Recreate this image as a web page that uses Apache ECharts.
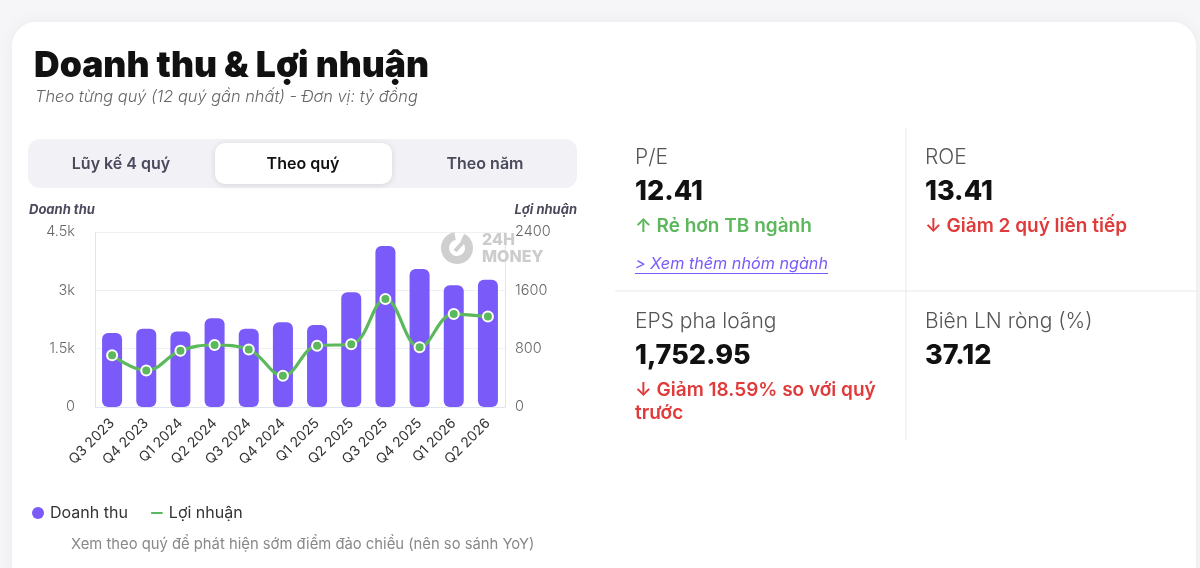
<!DOCTYPE html>
<html>
<head>
<meta charset="utf-8">
<script src="https://cdn.jsdelivr.net/npm/echarts@6/dist/echarts.min.js"></script>
<style>
html,body{margin:0;padding:0;background:#f6f6f9;}
#chart{width:1200px;height:568px;}
</style>
</head>
<body>
<div id="chart"></div>
<script>
// ---- Data ----
const categories = ['Q3 2023','Q4 2023','Q1 2024','Q2 2024','Q3 2024','Q4 2024','Q1 2025','Q2 2025','Q3 2025','Q4 2025','Q1 2026','Q2 2026'];
const revenue = [1900, 2010, 1940, 2280, 2010, 2180, 2110, 2950, 4140, 3550, 3130, 3270];
const profit = [710, 500, 770, 850, 790, 430, 840, 860, 1480, 820, 1275, 1240];
const leftTicks = {min: 0, max: 4500, interval: 1500};
const rightTicks = {min: 0, max: 2400, interval: 800};
const tabLabels = ['Lũy kế 4 quý', 'Theo quý', 'Theo năm'];
const stats = [
  {label: 'P/E', value: '12.41', note: ['↑ Rẻ hơn TB ngành'], good: true, link: '> Xem thêm nhóm ngành'},
  {label: 'ROE', value: '13.41', note: ['↓ Giảm 2 quý liên tiếp'], good: false},
  {label: 'EPS pha loãng', value: '1,752.95', note: ['↓ Giảm 18.59% so với quý', 'trước'], good: false},
  {label: 'Biên LN ròng (%)', value: '37.12', note: [], good: false}
];

const FONT = 'Inter, "Noto Sans", "DejaVu Sans", sans-serif';
const PURPLE = '#7a5af8';
const GREEN = '#5cb85c';
const RED = '#e03a3a';

function measure(text, font) {
  const c = document.createElement('canvas').getContext('2d');
  c.font = font;
  return c.measureText(text).width;
}

const chart = echarts.init(document.getElementById('chart'), null, {renderer: 'canvas'});

const g = [];
// card
g.push({type: 'rect', z: -10, shape: {x: 12, y: 22, width: 1184, height: 580, r: 24},
  style: {fill: '#ffffff', shadowBlur: 18, shadowColor: 'rgba(0,0,0,0.05)'}});
// title
g.push({type: 'text', x: 34, y: 66, style: {text: 'Doanh thu & Lợi nhuận', font: '900 35.5px ' + FONT, fill: '#111111', verticalAlign: 'middle'}});
g.push({type: 'text', x: 35, y: 97, style: {text: 'Theo từng quý (12 quý gần nhất) - Đơn vị: tỷ đồng', font: 'italic 300 16.4px ' + FONT, fill: '#666666', verticalAlign: 'middle'}});
// tabs
g.push({type: 'rect', shape: {x: 28, y: 139, width: 549, height: 49, r: 12}, style: {fill: '#f2f2f6'}});
g.push({type: 'rect', shape: {x: 215, y: 143, width: 177, height: 41, r: 10}, style: {fill: '#ffffff', shadowBlur: 6, shadowOffsetY: 1, shadowColor: 'rgba(0,0,0,0.12)'}});
const tabCenters = [121, 303, 485];
tabLabels.forEach((t, i) => {
  g.push({type: 'text', x: tabCenters[i], y: 164, style: {text: t, font: '600 16px ' + FONT, fill: i === 1 ? '#111111' : '#4a4a5c', align: 'center', verticalAlign: 'middle'}});
});
// axis names
g.push({type: 'text', x: 29, y: 210, style: {text: 'Doanh thu', font: 'italic 700 13px ' + FONT, fill: '#4a4a5c', verticalAlign: 'middle'}});
g.push({type: 'text', x: 577, y: 210, style: {text: 'Lợi nhuận', font: 'italic 700 13px ' + FONT, fill: '#4a4a5c', align: 'right', verticalAlign: 'middle'}});
// watermark
g.push({type: 'arc', z: 1, shape: {cx: 457, cy: 248, r: 12, startAngle: -Math.PI * 0.35, endAngle: Math.PI * 1.45}, style: {stroke: '#cfcfcf', lineWidth: 8, fill: null}});
g.push({type: 'line', z: 1, shape: {x1: 455, y1: 251, x2: 465, y2: 240}, style: {stroke: '#cfcfcf', lineWidth: 4}});
g.push({type: 'text', z: 1, x: 482, y: 240, style: {text: '24H', font: '800 16px ' + FONT, fill: '#cccccc', verticalAlign: 'middle'}});
g.push({type: 'text', z: 1, x: 482, y: 257, style: {text: 'MONEY', font: '800 16px ' + FONT, fill: '#cccccc', verticalAlign: 'middle'}});
// footnote
g.push({type: 'text', x: 71, y: 545, style: {text: 'Xem theo quý để phát hiện sớm điểm đảo chiều (nên so sánh YoY)', font: '400 14.8px ' + FONT, fill: '#888888', verticalAlign: 'middle'}});
// stats dividers
g.push({type: 'line', shape: {x1: 906, y1: 128, x2: 906, y2: 440}, style: {stroke: '#e8e8ec', lineWidth: 1}});
g.push({type: 'line', shape: {x1: 615, y1: 291, x2: 1196, y2: 291}, style: {stroke: '#e8e8ec', lineWidth: 1}});
const cellPos = [[635, 158], [925, 158], [635, 322], [925, 322]];
stats.forEach((s, i) => {
  const [x, y] = cellPos[i];
  g.push({type: 'text', x: x, y: y, style: {text: s.label, font: '300 21px ' + FONT, fill: '#555555', verticalAlign: 'middle'}});
  g.push({type: 'text', x: x, y: y + 34, style: {text: s.value, font: '800 27px ' + FONT, fill: '#111111', verticalAlign: 'middle'}});
  s.note.forEach((n, j) => {
    g.push({type: 'text', x: x, y: y + 68 + j * 23, style: {text: n, font: '600 19px ' + FONT, fill: s.good ? GREEN : RED, verticalAlign: 'middle'}});
  });
  if (s.link) {
    const f = 'italic 400 16.2px ' + FONT;
    const w = measure(s.link, f);
    g.push({type: 'text', x: x, y: y + 106, style: {text: s.link, font: f, fill: '#7a5af8', verticalAlign: 'middle'}});
    g.push({type: 'line', shape: {x1: x, y1: y + 115.5, x2: x + w, y2: y + 115.5}, style: {stroke: '#7a5af8', lineWidth: 1}});
  }
});

const option = {
  animation: false,
  textStyle: {fontFamily: FONT},
  grid: {left: 95, right: 695, top: 232, bottom: 161, containLabel: false},
  legend: {
    left: 27, top: 500, itemWidth: 14, itemHeight: 12, itemGap: 21,
    textStyle: {fontSize: 16, color: '#333333', fontFamily: FONT},
    data: [
      {name: 'Doanh thu', icon: 'circle'},
      {name: 'Lợi nhuận', icon: 'path://M2,0 L12,0 A2,2 0 0 1 12,4 L2,4 A2,2 0 0 1 2,0 Z'}
    ]
  },
  xAxis: {
    type: 'category', data: categories,
    axisLine: {show: true, lineStyle: {color: '#e0e4ee'}},
    axisTick: {show: false},
    axisLabel: {rotate: 45, fontSize: 14, color: '#333333', margin: 14, interval: 0}
  },
  yAxis: [
    {type: 'value', min: leftTicks.min, max: leftTicks.max, interval: leftTicks.interval,
     axisLine: {show: true, lineStyle: {color: '#e0e4ee'}},
     axisTick: {show: false},
     splitLine: {show: true, lineStyle: {color: '#f0f0f3'}},
     axisLabel: {fontSize: 14.5, fontWeight: 300, color: '#666666', margin: 20,
       formatter: v => v === 0 ? '0' : (v / 1000) + 'k'}},
    {type: 'value', min: rightTicks.min, max: rightTicks.max, interval: rightTicks.interval, position: 'right',
     axisLine: {show: true, lineStyle: {color: '#e0e4ee'}},
     axisTick: {show: false},
     splitLine: {show: false},
     axisLabel: {fontSize: 14.5, fontWeight: 300, color: '#666666', margin: 10, formatter: v => String(v)}}
  ],
  series: [
    {name: 'Doanh thu', type: 'bar', data: revenue, yAxisIndex: 0, barWidth: 20,
     itemStyle: {color: PURPLE, borderRadius: 6}},
    {name: 'Lợi nhuận', type: 'line', data: profit, yAxisIndex: 1, smooth: 0.4,
     symbol: 'circle', symbolSize: 10, showAllSymbol: true,
     lineStyle: {color: GREEN, width: 3.2},
     itemStyle: {color: GREEN, borderColor: '#ffffff', borderWidth: 2}}
  ],
  graphic: g
};
chart.setOption(option);
</script>
</body>
</html>
